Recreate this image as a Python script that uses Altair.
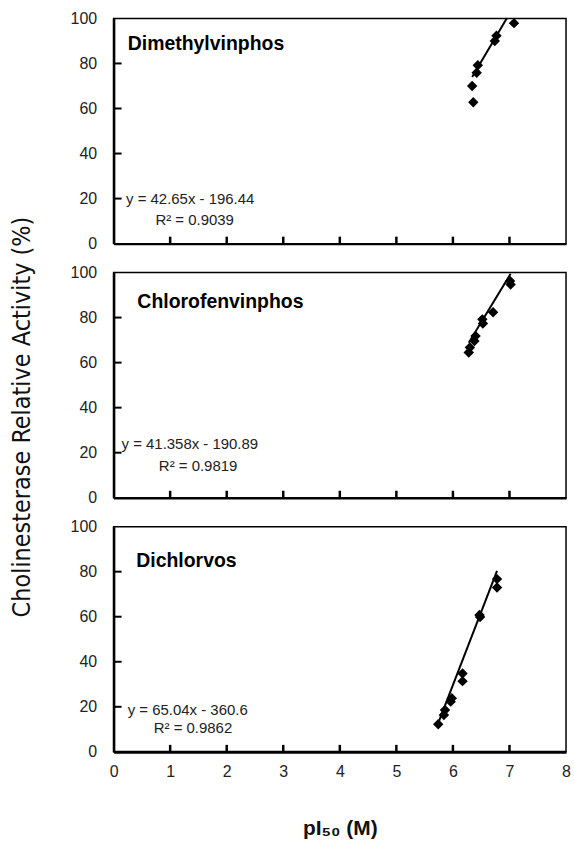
import altair as alt
import pandas as pd

# pI50 (x) against cholinesterase relative activity in % (y) for each insecticide
dmv_x = [7.08, 6.77, 6.74, 6.44, 6.42, 6.34, 6.36]
dmv_y = [97.9, 92.3, 90.0, 79.2, 75.9, 70.0, 62.8]

cfv_x = [7.01, 7.02, 6.71, 6.52, 6.53, 6.40, 6.38, 6.30, 6.28]
cfv_y = [96.2, 94.7, 82.4, 79.2, 77.4, 71.8, 69.6, 66.7, 64.5]

ddv_x = [6.78, 6.78, 6.47, 6.48, 6.17, 6.17, 5.98, 5.96, 5.86, 5.84, 5.74]
ddv_y = [76.7, 73.0, 60.8, 59.9, 34.8, 31.4, 23.8, 22.3, 18.6, 16.4, 12.3]

names = ["Dimethylvinphos", "Chlorofenvinphos", "Dichlorvos"]
slopes = [42.65, 41.358, 65.04]
intercepts = [-196.44, -190.89, -360.6]
eq_labels = ["y = 42.65x - 196.44", "y = 41.358x - 190.89", "y = 65.04x - 360.6"]
r2_labels = ["R\u00b2 = 0.9039", "R\u00b2 = 0.9819", "R\u00b2 = 0.9862"]

x_ticks = [0, 1, 2, 3, 4, 5, 6, 7, 8]
y_ticks = [0, 20, 40, 60, 80, 100]
inner_x_ticks = [1, 2, 3, 4, 5, 6, 7]
inner_y_ticks = [20, 40, 60, 80]

y_title = "Cholinesterase Relative Activity (%)"
x_title = "pI\u2085\u2080 (M)"

W, H = 454, 226
LABEL_FONT = "Liberation Sans"
NARROW_FONT = "DejaVu Sans Condensed, Liberation Sans"

# placement of the in-panel texts (data units): name, equation line, R² line
name_pos = [(0.25, 88.8), (0.42, 87.0), (0.40, 84.6)]
eq_pos = [(0.22, 20.0), (0.14, 23.9), (0.25, 18.5)]
r2_pos = [(0.74, 10.3), (0.80, 14.2), (0.71, 10.6)]

xscale = alt.Scale(domain=[0, 8], nice=False, zero=False)
yscale = alt.Scale(domain=[0, 100], nice=False)


def panel(i, xs, ys, bottom, ytitle):
    pts = pd.DataFrame({"x": xs, "y": ys})
    m, b = slopes[i], intercepts[i]
    x_end = min(max(xs), (100 - b) / m)
    fit = pd.DataFrame({"x": [min(xs), x_end]})
    fit["y"] = m * fit["x"] + b

    if bottom:
        xaxis = alt.Axis(values=x_ticks, format="d", ticks=False, grid=False,
                         labelFlush=False, labelPadding=12, labelFontSize=16,
                         labelFont=LABEL_FONT, labelColor="#222", title=x_title,
                         titleFont=LABEL_FONT, titleFontSize=21,
                         titleFontWeight="bold", titlePadding=38,
                         titleColor="#111", domainWidth=3)
    else:
        xaxis = alt.Axis(values=x_ticks, labels=False, ticks=False, grid=False,
                         title=None, domainWidth=2.5)

    yaxis = alt.Axis(values=y_ticks, ticks=False, grid=False, labelFlush=False,
                     labelPadding=17, labelFontSize=16, labelFont=LABEL_FONT,
                     labelColor="#222", title=None, domainWidth=2.5)

    base_x = alt.X("x:Q", scale=xscale, axis=xaxis)
    base_y = alt.Y("y:Q", scale=yscale, axis=yaxis)

    points = alt.Chart(pts).mark_point(shape="diamond", filled=True, color="black",
                                       size=110, opacity=1).encode(x=base_x, y=base_y)
    line = alt.Chart(fit).mark_line(color="black", strokeWidth=2).encode(x=base_x, y=base_y)

    ytk = alt.Chart(pd.DataFrame({"v": inner_y_ticks})).mark_rule(
        color="black", strokeWidth=2).encode(
        y=alt.Y("v:Q", scale=yscale), x=alt.value(0), x2=alt.value(8))
    xtk = alt.Chart(pd.DataFrame({"v": inner_x_ticks})).mark_rule(
        color="black", strokeWidth=2.5).encode(
        x=alt.X("v:Q", scale=xscale), y=alt.value(H), y2=alt.value(H - 7))

    nx, ny = name_pos[i]
    name = alt.Chart(pd.DataFrame({"t": [names[i]]})).mark_text(
        align="left", baseline="middle", font=LABEL_FONT, fontSize=19.5,
        fontWeight="bold", color="black").encode(
        x=alt.datum(nx), y=alt.datum(ny), text="t:N")

    ex, ey = eq_pos[i]
    rx, ry = r2_pos[i]
    eq = alt.Chart(pd.DataFrame({"t": [eq_labels[i]]})).mark_text(
        align="left", baseline="middle", font=LABEL_FONT, fontSize=15,
        color="#222").encode(x=alt.datum(ex), y=alt.datum(ey), text="t:N")
    r2 = alt.Chart(pd.DataFrame({"t": [r2_labels[i]]})).mark_text(
        align="left", baseline="middle", font=LABEL_FONT, fontSize=15,
        color="#222").encode(x=alt.datum(rx), y=alt.datum(ry), text="t:N")

    layers = [line, points, ytk, xtk, name, eq, r2]
    if ytitle:
        layers.append(alt.Chart(pd.DataFrame({"t": [y_title]})).mark_text(
            angle=270, align="center", baseline="middle", font=NARROW_FONT,
            fontSize=25, color="#111").encode(
            x=alt.value(-92), y=alt.value(H / 2 + 32), text="t:N"))

    return alt.layer(*layers).properties(width=W, height=H)


chart = alt.vconcat(
    panel(0, dmv_x, dmv_y, False, False),
    panel(1, cfv_x, cfv_y, False, True),
    panel(2, ddv_x, ddv_y, True, False),
    spacing=29,
    bounds="flush",
).configure_view(
    stroke="black", strokeWidth=1.5
).configure_axis(
    domainColor="black"
).properties(
    padding={"left": 9, "top": 8, "right": 2, "bottom": 4},
    background="white",
)

chart.save("out.html", embed_options={"renderer": "svg", "actions": False})
